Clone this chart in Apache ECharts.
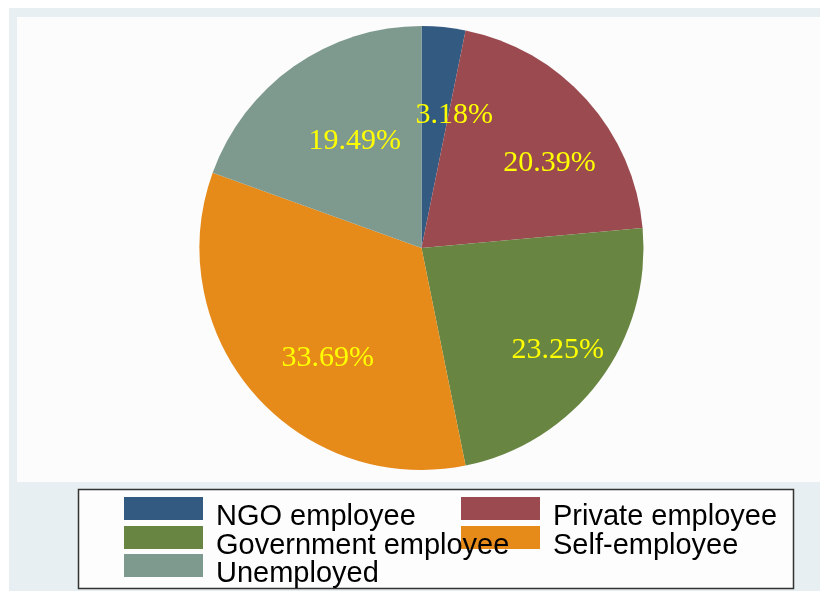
<!DOCTYPE html>
<html>
<head>
<meta charset="utf-8">
<script src="https://cdn.jsdelivr.net/npm/echarts@6/dist/echarts.min.js"></script>
<style>
  html, body { margin: 0; padding: 0; background: #ffffff; }
  #chart { width: 820px; height: 591px; }
</style>
</head>
<body>
<div id="chart"></div>
<script>
// Employment status shares (percent of respondents)
const categories = ['NGO employee', 'Private employee', 'Government employee', 'Self-employee', 'Unemployed'];
const shares = [3.18, 20.39, 23.25, 33.69, 19.49];
const sliceColors = ['#335a80', '#9b4a50', '#688541', '#e68a19', '#7e9a8f'];

const chart = echarts.init(document.getElementById('chart'), null, { renderer: 'canvas' });

const cx = 421.5, cy = 248, R = 222;
const total = shares.reduce((a, b) => a + b, 0);

function midAngle(i) {
  let before = 0;
  for (let k = 0; k < i; k++) before += shares[k];
  return (before + shares[i] / 2) / total * 2 * Math.PI;
}

// Key text sits a little below the middle of its colour swatch
const legendText = {
  color: '#000000',
  rich: {
    t: {
      fontFamily: "'Liberation Sans', Arial, sans-serif",
      fontSize: 29,
      color: '#000000',
      padding: [16, 0, 0, 8]
    }
  }
};

// Legend key laid out as a two-column grid inside a framed box
const legendSlots = [
  { left: 124, top: 497, z: 6 },  // NGO employee
  { left: 461, top: 497, z: 4 },  // Private employee
  { left: 124, top: 526, z: 6 },  // Government employee
  { left: 461, top: 526, z: 4 },  // Self-employee
  { left: 124, top: 554, z: 6 }   // Unemployed
];

const legends = categories.map((name, i) => ({
  data: [name],
  orient: 'vertical',
  left: legendSlots[i].left,
  top: legendSlots[i].top,
  z: legendSlots[i].z,
  padding: 0,
  itemWidth: 79,
  itemHeight: 23,
  icon: 'rect',
  selectedMode: false,
  formatter: '{t|{name}}',
  textStyle: legendText
}));

const option = {
  backgroundColor: '#ffffff',
  animation: false,
  graphic: [
    { type: 'rect', z: -10, shape: { x: 9, y: 8, width: 811, height: 583 }, style: { fill: '#e8eff2' } },
    { type: 'rect', z: -9, shape: { x: 17, y: 17, width: 803, height: 465 }, style: { fill: '#fcfcfc' } },
    { type: 'rect', z: -8, shape: { x: 78.5, y: 489.5, width: 715, height: 99 }, style: { fill: '#fdfdfd', stroke: '#333333', lineWidth: 1.5 } }
  ],
  color: sliceColors,
  legend: legends,
  series: [{
    type: 'pie',
    center: [cx, cy],
    radius: [0, R],
    startAngle: 90,
    clockwise: true,
    avoidLabelOverlap: false,
    data: categories.map((name, i) => ({ name: name, value: shares[i] })),
    itemStyle: { borderWidth: 0 },
    label: {
      show: true,
      position: 'outside',
      formatter: p => shares[p.dataIndex].toFixed(2) + '%',
      fontFamily: "'Liberation Serif', 'Times New Roman', serif",
      fontSize: 30,
      color: '#ffff00'
    },
    labelLine: { show: false },
    emphasis: { disabled: true },
    // Percent labels sit inside each slice, along its mid-angle
    labelLayout: function (params) {
      const a = midAngle(params.dataIndex);
      const r = R * 0.665;
      return {
        x: cx + r * Math.sin(a) + 18,
        y: cy - r * Math.cos(a) + 14,
        align: 'center',
        verticalAlign: 'middle'
      };
    }
  }]
};

chart.setOption(option);
</script>
</body>
</html>
